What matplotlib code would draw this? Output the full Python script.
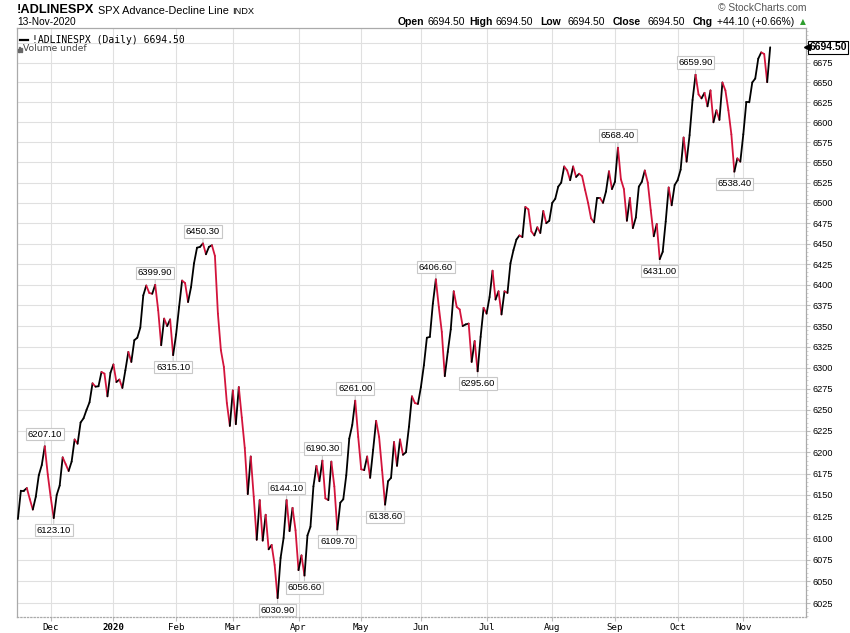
import numpy as np
import pandas as pd
import matplotlib
matplotlib.use("Agg")
import matplotlib.pyplot as plt
from matplotlib.collections import LineCollection
from matplotlib.ticker import FixedLocator, FixedFormatter
from matplotlib.patches import Rectangle
import matplotlib.transforms as mtransforms

plt.rcParams['font.family'] = ['Liberation Sans', 'DejaVu Sans']

# trading days, Nov 14 2019 .. Nov 13 2020
holidays = ["2019-11-28", "2019-12-25", "2020-01-01", "2020-01-20", "2020-02-17",
            "2020-04-10", "2020-05-25", "2020-07-03", "2020-09-07"]
dates = pd.bdate_range("2019-11-14", "2020-11-13")
dates = dates[~dates.isin(pd.to_datetime(holidays))]

adline = [
    6122, 6155, 6155, 6158, 6145, 6133, 6148, 6173, 6185, 6207.1,
    6174, 6147, 6123.1, 6150, 6161, 6194, 6186, 6178, 6189, 6215,
    6210, 6235, 6240, 6250, 6259, 6281.5, 6277.5, 6278, 6295, 6293,
    6266, 6294, 6304, 6283, 6286, 6276, 6297, 6319, 6307, 6333,
    6336, 6348, 6387, 6399, 6390, 6389, 6399.9, 6369, 6327, 6359,
    6350, 6358, 6315.1, 6340, 6373, 6405, 6402, 6379, 6397, 6426,
    6445, 6446, 6450.3, 6437, 6446, 6448, 6435, 6365, 6321, 6301,
    6258, 6231, 6273, 6233, 6277, 6241, 6205, 6151, 6195, 6148,
    6098, 6144, 6097, 6127, 6087, 6092, 6069, 6030.9, 6077, 6100,
    6144.1, 6108, 6135, 6109, 6063, 6080, 6056.6, 6103, 6113, 6160,
    6184, 6166, 6190.3, 6146, 6144, 6189, 6160, 6109.7, 6141, 6145,
    6173, 6216, 6232, 6261.0, 6218, 6180, 6179, 6195, 6170, 6203,
    6237, 6218, 6179, 6138.6, 6166, 6170, 6212, 6184, 6215, 6197,
    6200, 6230, 6266, 6258, 6257, 6277, 6303, 6336, 6337, 6377,
    6406.6, 6373, 6343, 6290, 6319, 6346, 6392, 6373, 6370, 6350,
    6352, 6353, 6307, 6332, 6295.6, 6337, 6372, 6365, 6385, 6417,
    6382, 6392, 6364, 6392, 6390, 6426, 6442, 6455, 6460, 6458,
    6495, 6492, 6465, 6460, 6470, 6463, 6490, 6475, 6478, 6500,
    6505, 6520, 6525, 6545, 6540, 6528, 6545, 6532, 6536, 6533,
    6516, 6500, 6481, 6476, 6506, 6506, 6500, 6514, 6539, 6517,
    6526, 6568.4, 6529, 6517, 6478, 6506, 6469, 6482, 6520, 6526,
    6540, 6525, 6491, 6459, 6474, 6431.0, 6440, 6477, 6519, 6497,
    6522, 6528, 6541, 6581, 6551, 6584, 6628, 6659.9, 6635, 6630,
    6637, 6620, 6640, 6600, 6615, 6603, 6650, 6640, 6615, 6585,
    6538.4, 6555, 6551, 6585, 6625, 6625, 6650, 6655, 6680, 6688,
    6686, 6650.4, 6694.5,
]
pivots = [9, 12, 46, 52, 62, 87, 90, 96, 102, 107, 113, 123, 140, 154, 201, 215, 227, 240]
y_levels = list(range(6025, 6701, 25))
# 6700 sits under the last-value tag, so its label is left blank
y_labels = [str(v) if v < 6700 else '' for v in y_levels]

n = min(len(dates), len(adline))
dates = dates[:n]
vals = np.array(adline[:n], dtype=float)
x = np.arange(n)

red = '#d3143c'
W, H = 850, 633
fig = plt.figure(figsize=(W / 100, H / 100), dpi=100)
ax = fig.add_axes([17 / W, 1 - 617 / H, (806 - 17) / W, (617 - 28) / H])

# up days black, down days red
pts = np.column_stack([x, vals])
segs = np.stack([pts[:-1], pts[1:]], axis=1)
cols = [red if b < a else 'black' for a, b in zip(vals[:-1], vals[1:])]
lc = LineCollection(segs, colors=cols, linewidths=1.3, capstyle='round', joinstyle='round', zorder=3)
ax.add_collection(lc)

ax.set_yscale('log')
ax.set_xlim(-0.3, 264.0)
ax.set_ylim(6009.4, 6719.0)

ax.yaxis.set_major_locator(FixedLocator(y_levels))
ax.yaxis.set_major_formatter(FixedFormatter(y_labels))
ax.yaxis.set_minor_locator(FixedLocator(np.arange(6010, 6720, 5)))
ax.yaxis.set_minor_formatter(FixedFormatter([]))
ax.yaxis.tick_right()
ax.tick_params(axis='y', which='major', labelsize=6.6, length=3, color='#bbbbbb', pad=2)
ax.tick_params(axis='y', which='minor', length=1.5, color='#cccccc')

mstarts = [i for i in range(1, n) if dates[i].month != dates[i - 1].month]
mlabels = ['2020' if dates[i].month == 1 else dates[i].strftime('%b') for i in mstarts]
ax.set_xticks(mstarts)
ax.set_xticklabels(mlabels, family='DejaVu Sans Mono', fontsize=6.6)
for t in ax.get_xticklabels():
    if t.get_text() == '2020':
        t.set_fontweight('bold')
ax.tick_params(axis='x', length=3, color='#bbbbbb', pad=1.5)

ax.grid(True, which='major', color='#e0e0e0', lw=0.8, zorder=0)
for s in ax.spines.values():
    s.set_color('#aaaaaa')
    s.set_linewidth(0.9)
ax.spines['bottom'].set_linestyle(':')

# pivot labels
for i in pivots:
    v = vals[i]
    peak = v >= vals[i - 1] and v >= vals[i + 1]
    dy = 12 if peak else -12
    ax.annotate(f"{v:.2f}", xy=(i, v), xytext=(0, dy), textcoords='offset pixels',
                ha='center', va='center', fontsize=6.8, zorder=6,
                bbox=dict(boxstyle='square,pad=0.18', fc='white', ec='#c8c8c8', lw=0.8),
                arrowprops=dict(arrowstyle='-', color='#c8c8c8', lw=0.8, shrinkA=0, shrinkB=1))

# last value tag
last = vals[-1]
trans = mtransforms.blended_transform_factory(ax.transAxes, ax.transData)
ax.text(1.004, last, f"{last:.2f}", transform=trans, ha='left', va='center',
        fontsize=7.5, fontweight='bold', zorder=10, clip_on=False,
        bbox=dict(boxstyle='square,pad=0.12', fc='white', ec='black', lw=0.8))
ax.plot([1.001], [last], marker='<', ms=4, color='black', transform=trans, clip_on=False, zorder=11)

# legend inside the plot
fig.add_artist(plt.Line2D([20 / W, 28 / W], [1 - 40 / H, 1 - 40 / H], color='black', lw=1.6))
fig.text(32 / W, 1 - 40 / H, f"!ADLINESPX (Daily) {last:.2f}", family='DejaVu Sans Mono',
         fontsize=7, va='center', ha='left')
for k, hgt in enumerate([3, 5, 4]):
    fig.add_artist(Rectangle(((17.5 + 1.6 * k) / W, 1 - 52 / H), 1.1 / W, hgt / H, color='#666666'))
fig.text(23 / W, 1 - 48.5 / H, "Volume undef", family='DejaVu Sans', fontsize=6.6,
         color='#444444', va='center', ha='left')

# header
fig.text(17 / W, 1 - 10 / H, "!ADLINESPX", fontsize=9.2, fontweight='bold', va='center')
fig.text(98 / W, 1 - 10.5 / H, "SPX Advance-Decline Line", fontsize=7.8, va='center')
fig.text(232 / W, 1 - 11 / H, "INDX", fontsize=6.7, va='center')
fig.text(17 / W, 1 - 22 / H, "13-Nov-2020", fontsize=7.3, va='center')
fig.text(806 / W, 1 - 8 / H, "\u00a9 StockCharts.com", fontsize=7.4, color='#555555',
         va='center', ha='right')

hdr = [(398, "Open", True), (427, f"{vals[-1]:.2f}", False),
       (469, "High", True), (495, f"{vals[-1]:.2f}", False),
       (540, "Low", True), (568, f"{vals[-1]:.2f}", False),
       (613, "Close", True), (648, f"{vals[-1]:.2f}", False),
       (693, "Chg", True)]
for px, s, b in hdr:
    fig.text(px / W, 1 - 22 / H, s, fontsize=7.5, fontweight='bold' if b else 'normal', va='center')
chg = vals[-1] - vals[-2]
fig.text(717 / W, 1 - 22 / H, f"+{chg:.2f} (+{chg / vals[-2] * 100:.2f}%)", fontsize=7.5, va='center')
fig.text(800 / W, 1 - 22 / H, "\u25b2", fontsize=5.5, color='#2e9e2e', va='center',
         family=['DejaVu Sans'])

fig.savefig("out.png", dpi=100)
